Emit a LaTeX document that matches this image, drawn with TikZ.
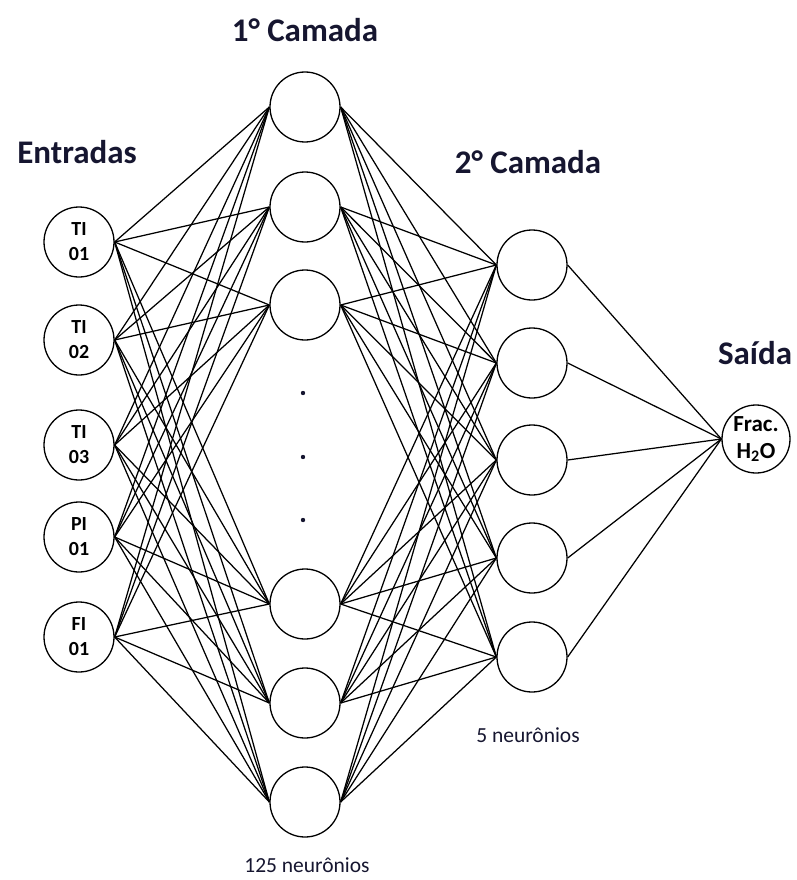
\documentclass[tikz,border=0pt]{standalone}
\usepackage{fontspec}
\setmainfont{Carlito}
\definecolor{labelink}{RGB}{22,22,48}
\begin{document}
\begin{tikzpicture}[x=1pt,y=-1pt,
  neuron/.style={circle,draw,line width=1.3pt,minimum size=70pt,inner sep=0pt,
    font=\bfseries\fontsize{20}{25}\selectfont,align=center},
  outneuron/.style={neuron,minimum size=68pt,font=\bfseries\fontsize{23}{27}\selectfont},
  title/.style={font=\bfseries\fontsize{33}{38}\selectfont,text=labelink},
  caption/.style={font=\fontsize{21.5}{25}\selectfont,text=labelink,inner sep=1pt},
  link/.style={line width=1.25pt}]
\useasboundingbox (0,0) rectangle (797,880);

% input layer
\node[neuron] (i1) at (79,242) {TI\\01};
\node[neuron] (i2) at (79,340) {TI\\02};
\node[neuron] (i3) at (79,445) {TI\\03};
\node[neuron] (i4) at (79,537) {PI\\01};
\node[neuron] (i5) at (79,637) {FI\\01};

% first hidden layer
\foreach \n/\y in {1/107,2/207,3/305,4/604,5/703,6/802}
  \node[neuron] (h\n) at (305,\y) {};

% second hidden layer
\foreach \n/\y in {1/265,2/363,3/460,4/558,5/657}
  \node[neuron] (k\n) at (532,\y) {};

% output
\node[outneuron] (o) at (756,439) {Frac.\\H\textsubscript{2}O};

% ellipsis dots
\foreach \n/\y in {1/393,2/457,3/520}
  \fill[labelink] (303,\y) circle (2.2pt) coordinate (d\n);

% connections
\foreach \a in {1,...,5}
  \foreach \b in {1,...,6}
    \draw[link] (i\a.east) -- (h\b.west);
\foreach \a in {1,...,6}
  \foreach \b in {1,...,5}
    \draw[link] (h\a.east) -- (k\b.west);
\foreach \a in {1,...,5}
  \draw[link] (k\a.east) -- (o.west);

% labels
\node[title] (t1) at (305,30) {1° Camada};
\node[title] (t0) at (77,152) {Entradas};
\node[title] (t2) at (528,162) {2° Camada};
\node[title] (t3) at (755,353) {Saída};
\node[caption] (c1) at (307,865) {125 neurônios};
\node[caption] (c2) at (528,735) {5 neurônios};
\end{tikzpicture}
\end{document}
